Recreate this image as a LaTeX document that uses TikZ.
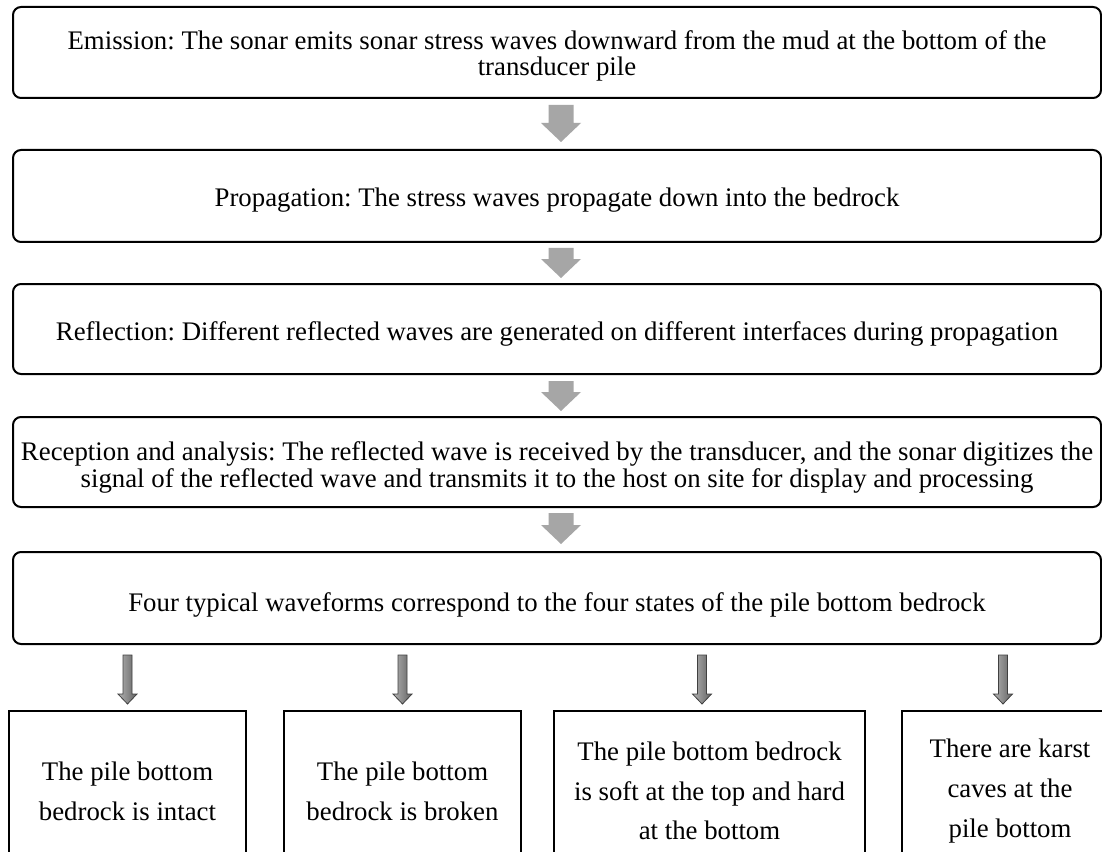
\documentclass[tikz,border=0pt]{standalone}
\usepackage{fontspec}
\setmainfont{Liberation Serif}
\frenchspacing
\usetikzlibrary{calc}
\definecolor{arrowgray}{HTML}{A6A6A6}
\newcommand\bigarr[2]{\fill[arrowgray] let \p1=(#1), \p2=(#2) in
  (\x1-9.375pt,\y1) -- (\x1+9.375pt,\y1) -- (\x1+9.375pt,\y2+14.25pt) -- (\x1+15pt,\y2+14.25pt)
  -- (\x1,\y2) -- (\x1-15pt,\y2+14.25pt) -- (\x1-9.375pt,\y2+14.25pt) -- cycle;}
\newcommand\smallarr[2]{\draw[smallarrow] let \p1=(#1), \p2=(#2) in
  (\x1-3.375pt,\y1) -- (\x1+3.375pt,\y1) -- (\x1+3.375pt,\y2+7.5pt) -- (\x1+7.125pt,\y2+7.5pt)
  -- (\x1,\y2) -- (\x1-7.125pt,\y2+7.5pt) -- (\x1-3.375pt,\y2+7.5pt) -- cycle;}
\begin{document}
\begin{tikzpicture}[x=0.75pt,y=-0.75pt,
  stage/.style={draw=black, line width=1.5pt, rounded corners=6pt, minimum width=816pt, inner sep=0pt},
  stagetext/.style={align=center, font=\fontsize{20.1}{19.8}\selectfont, inner sep=0pt},
  state/.style={draw=black, line width=1.6pt, align=center, anchor=north,
    font=\fontsize{20.1}{29.8}\selectfont, inner sep=0pt, minimum height=120pt},
  smallarrow/.style={draw=black!75, line width=0.6pt, left color=black!30, right color=black!62}]
\useasboundingbox (0,0) rectangle (1102,852);
\clip (0,0) rectangle (1102,852);
\fill[white] (0,0) rectangle (1102,852);

\node[stage, minimum height=68.25pt] (b1) at (557,52.5) {};
\node[stage, minimum height=69pt] (b2) at (557,196) {};
\node[stage, minimum height=67.5pt] (b3) at (557,329) {};
\node[stage, minimum height=67.5pt] (b4) at (557,462) {};
\node[stage, minimum height=69pt] (b5) at (557,598) {};

\node[stagetext] (b1t) at ([yshift=-2.5pt]b1.center)
  {Emission: The sonar emits sonar stress waves downward from the mud at the bottom of the\\transducer pile};
\node[stagetext] (b2t) at ([yshift=-3pt]b2.center)
  {Propagation: The stress waves propagate down into the bedrock};
\node[stagetext] (b3t) at ([yshift=-4pt]b3.center)
  {Reflection: Different reflected waves are generated on different interfaces during propagation};
\node[stagetext] (b4t) at ([yshift=-4pt]b4.center)
  {Reception and analysis: The reflected wave is received by the transducer, and the sonar digitizes the\\signal of the reflected wave and transmits it to the host on site for display and processing};
\node[stagetext] (b5t) at ([yshift=-5pt]b5.center)
  {Four typical waveforms correspond to the four states of the pile bottom bedrock};

\node[state, minimum width=177.75pt] (sa) at (127.5,710)
  {The pile bottom\\bedrock is intact};
\node[state, minimum width=177.75pt] (sb) at (402.5,710)
  {The pile bottom\\bedrock is broken};
\node[state, minimum width=233.25pt] (sc) at (709.5,710)
  {The pile bottom bedrock\\is soft at the top and hard\\at the bottom};
\node[state, minimum width=162pt] (sd) at (1010,710)
  {There are karst\\caves at the\\pile bottom};

% big arrows
\coordinate (t1) at ([shift={(4,6)}]b1.south);   \coordinate (p1) at ([shift={(4,-7)}]b2.north);
\coordinate (t2) at ([shift={(4,5)}]b2.south);   \coordinate (p2) at ([shift={(4,-5)}]b3.north);
\coordinate (t3) at ([shift={(4,6)}]b3.south);   \coordinate (p3) at ([shift={(4,-5)}]b4.north);
\coordinate (t4) at ([shift={(4,5)}]b4.south);   \coordinate (p4) at ([shift={(4,-7)}]b5.north);
\bigarr{t1}{p1}
\bigarr{t2}{p2}
\bigarr{t3}{p3}
\bigarr{t4}{p4}

% small arrows
\coordinate (qa) at ([shift={(0,-6)}]sa.north);
\coordinate (qb) at ([shift={(0,-6)}]sb.north);
\coordinate (qc) at ([shift={(-7.5,-6)}]sc.north);
\coordinate (qd) at ([shift={(-7,-6)}]sd.north);
\coordinate (ua) at ([yshift=-7.5pt]qa |- b5.south);
\coordinate (ub) at ([yshift=-7.5pt]qb |- b5.south);
\coordinate (uc) at ([yshift=-7.5pt]qc |- b5.south);
\coordinate (ud) at ([yshift=-7.5pt]qd |- b5.south);
\smallarr{ua}{qa}
\smallarr{ub}{qb}
\smallarr{uc}{qc}
\smallarr{ud}{qd}
\end{tikzpicture}
\end{document}
